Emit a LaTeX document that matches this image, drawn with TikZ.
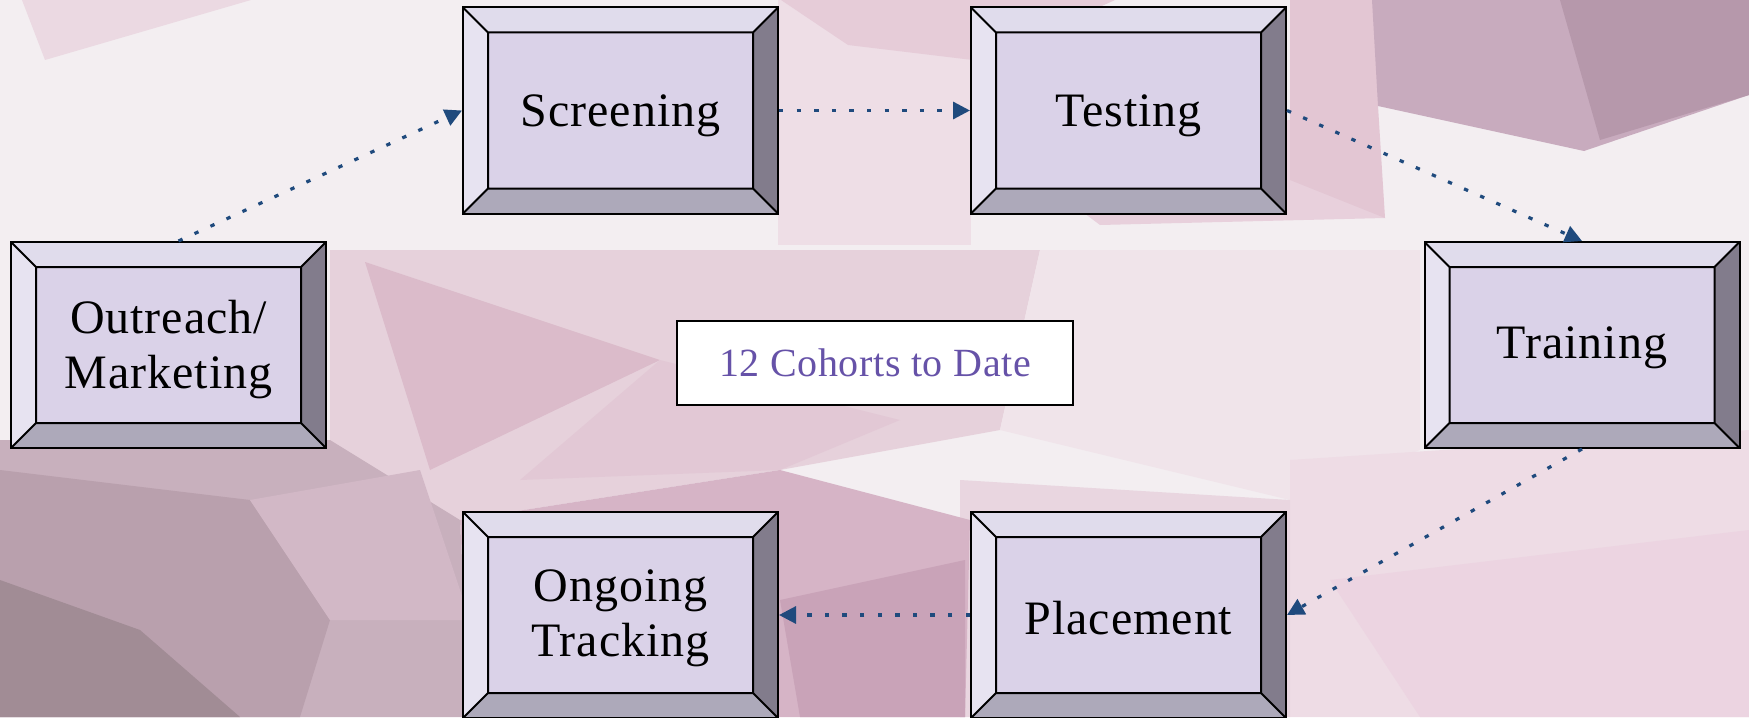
\documentclass[tikz,border=0pt]{standalone}
\usepackage{fontspec}
\setmainfont{Liberation Serif}
\newfontfamily\boxfont[LetterSpace=2]{Liberation Serif}
\newfontfamily\cohfont[LetterSpace=1.5]{Liberation Serif}
\usetikzlibrary{arrows.meta}
\definecolor{bgbase}{HTML}{F3EEF1}
\definecolor{bvtop}{HTML}{E0DCEC}
\definecolor{bvleft}{HTML}{E7E3F1}
\definecolor{bvbot}{HTML}{ADA9BA}
\definecolor{bvright}{HTML}{827C8C}
\definecolor{bvin}{HTML}{DAD2E8}
\definecolor{arrowblue}{HTML}{1F4A7D}
\definecolor{cohort}{RGB}{102,82,168}
\tikzset{
  bevelbox/.style={rectangle, draw=black, line width=1pt, fill=bvin,
    minimum width=157.5pt, minimum height=103pt, inner sep=0pt,
    path picture={
      \path (path picture bounding box.north west) coordinate (A)
            (path picture bounding box.north east) coordinate (B)
            (path picture bounding box.south east) coordinate (C)
            (path picture bounding box.south west) coordinate (D)
            ([shift={(12.5pt,-12.5pt)}]A) coordinate (a)
            ([shift={(-12.5pt,-12.5pt)}]B) coordinate (b)
            ([shift={(-12.5pt,12.5pt)}]C) coordinate (c)
            ([shift={(12.5pt,12.5pt)}]D) coordinate (d);
      \fill[bvtop] (A)--(B)--(b)--(a)--cycle;
      \fill[bvright] (B)--(C)--(c)--(b)--cycle;
      \fill[bvbot] (C)--(D)--(d)--(c)--cycle;
      \fill[bvleft] (D)--(A)--(a)--(d)--cycle;
      \draw[line width=1pt] (a) rectangle (c) (A)--(a) (B)--(b) (C)--(c) (D)--(d);
    }},
  boxtext/.style={align=center, inner sep=0pt, text=black,
    font=\boxfont\fontsize{24}{27.5}\selectfont},
  conn/.style={draw=arrowblue, line width=1.6pt, dash pattern=on 2.2pt off 6.6pt,
    -{Triangle[length=8.5pt,width=8.5pt]}},
  cohortbox/.style={rectangle, draw=black, line width=1pt, fill=white,
    minimum width=198pt, minimum height=42pt, inner sep=0pt,
    text=cohort, font=\cohfont\fontsize{20}{24}\selectfont}
}
\begin{document}
\begin{tikzpicture}[x=0.5pt,y=-0.5pt]
\useasboundingbox (0,0) rectangle (1749,717);
\begin{scope}
\clip (0,0) rectangle (1749,717);
% background
\fill[bgbase] (0,0) rectangle (1749,717);
\fill[color={rgb,255:red,235;green,217;blue,226}] (22,0) -- (251,0) -- (45,60) -- cycle;
\fill[color={rgb,255:red,238;green,222;blue,230}] (778,0) -- (971,0) -- (971,245) -- (778,245) -- cycle;
\fill[color={rgb,255:red,230;green,204;blue,216}] (781,0) -- (1115,0) -- (981,61) -- (848,45) -- cycle;
\fill[color={rgb,255:red,232;green,208;blue,220}] (1000,150) -- (1290,120) -- (1385,218) -- (1100,225) -- cycle;
\fill[color={rgb,255:red,227;green,198;blue,211}] (1290,0) -- (1380,0) -- (1378,106) -- (1385,218) -- (1290,180) -- cycle;
\fill[color={rgb,255:red,200;green,171;blue,190}] (1372,0) -- (1749,0) -- (1749,95) -- (1584,151) -- (1378,106) -- cycle;
\fill[color={rgb,255:red,182;green,152;blue,171}] (1560,0) -- (1749,0) -- (1749,95) -- (1600,140) -- cycle;
% middle pink zone
\fill[color={rgb,255:red,230;green,209;blue,219}] (330,250) -- (1040,250) -- (1000,430) -- (780,470) -- (460,520) -- (330,450) -- cycle;
\fill[color={rgb,255:red,219;green,187;blue,202}] (365,262) -- (660,360) -- (430,470) -- cycle;
\fill[color={rgb,255:red,226;green,200;blue,213}] (660,360) -- (900,420) -- (780,470) -- (520,480) -- cycle;
% right light
\fill[color={rgb,255:red,240;green,228;blue,234}] (1040,250) -- (1420,250) -- (1420,450) -- (1290,500) -- (1000,430) -- cycle;
\fill[color={rgb,255:red,238;green,220;blue,229}] (1290,460) -- (1749,430) -- (1749,717) -- (1290,717) -- cycle;
\fill[color={rgb,255:red,236;green,212;blue,225}] (1330,580) -- (1749,530) -- (1749,717) -- (1420,717) -- cycle;
\fill[color={rgb,255:red,233;green,214;blue,224}] (960,480) -- (1290,500) -- (1290,717) -- (960,717) -- cycle;
% lower center
\fill[color={rgb,255:red,214;green,180;blue,198}] (460,520) -- (780,470) -- (970,520) -- (965,717) -- (470,717) -- cycle;
\fill[color={rgb,255:red,201;green,163;blue,184}] (780,600) -- (965,560) -- (965,717) -- (800,717) -- cycle;
% lower left
\fill[color={rgb,255:red,200;green,176;blue,189}] (0,440) -- (330,440) -- (460,520) -- (470,717) -- (0,717) -- cycle;
\fill[color={rgb,255:red,185;green,160;blue,173}] (0,470) -- (250,500) -- (330,620) -- (300,717) -- (0,717) -- cycle;
\fill[color={rgb,255:red,161;green,140;blue,149}] (0,580) -- (140,630) -- (240,717) -- (0,717) -- cycle;
\fill[color={rgb,255:red,210;green,184;blue,198}] (250,500) -- (420,470) -- (470,620) -- (330,620) -- cycle;
\end{scope}

% boxes
\node[bevelbox] (out) at (168.5,345) {};
\node[bevelbox] (scr) at (620.5,110.5) {};
\node[bevelbox] (tst) at (1128.5,110.5) {};
\node[bevelbox] (trn) at (1582,345) {};
\node[bevelbox] (plc) at (1128.5,615) {};
\node[bevelbox] (ong) at (620.5,615) {};
% box texts
\node[boxtext] (outt) at ([yshift=-2.5pt]out.center) {Outreach/\\Marketing};
\node[boxtext] (scrt) at ([yshift=-2.5pt]scr.center) {Screening};
\node[boxtext] (tstt) at ([yshift=-2.5pt]tst.center) {Testing};
\node[boxtext] (trnt) at ([yshift=-1.5pt]trn.center) {Training};
\node[boxtext] (plct) at ([yshift=-1.5pt]plc.center) {Placement};
\node[boxtext] (ongt) at ([yshift=-1.5pt]ong.center) {Ongoing\\Tracking};
\node[cohortbox] (coh) at (875,363) {12 Cohorts to Date};

% connectors
\draw[conn] ([xshift=5pt]out.north) -- (scr.west);
\draw[conn] (scr.east) -- (tst.west);
\draw[conn] (tst.east) -- (trn.north);
\draw[conn] (trn.south) -- (plc.east);
\draw[conn] (plc.west) -- (ong.east);
\end{tikzpicture}
\end{document}
